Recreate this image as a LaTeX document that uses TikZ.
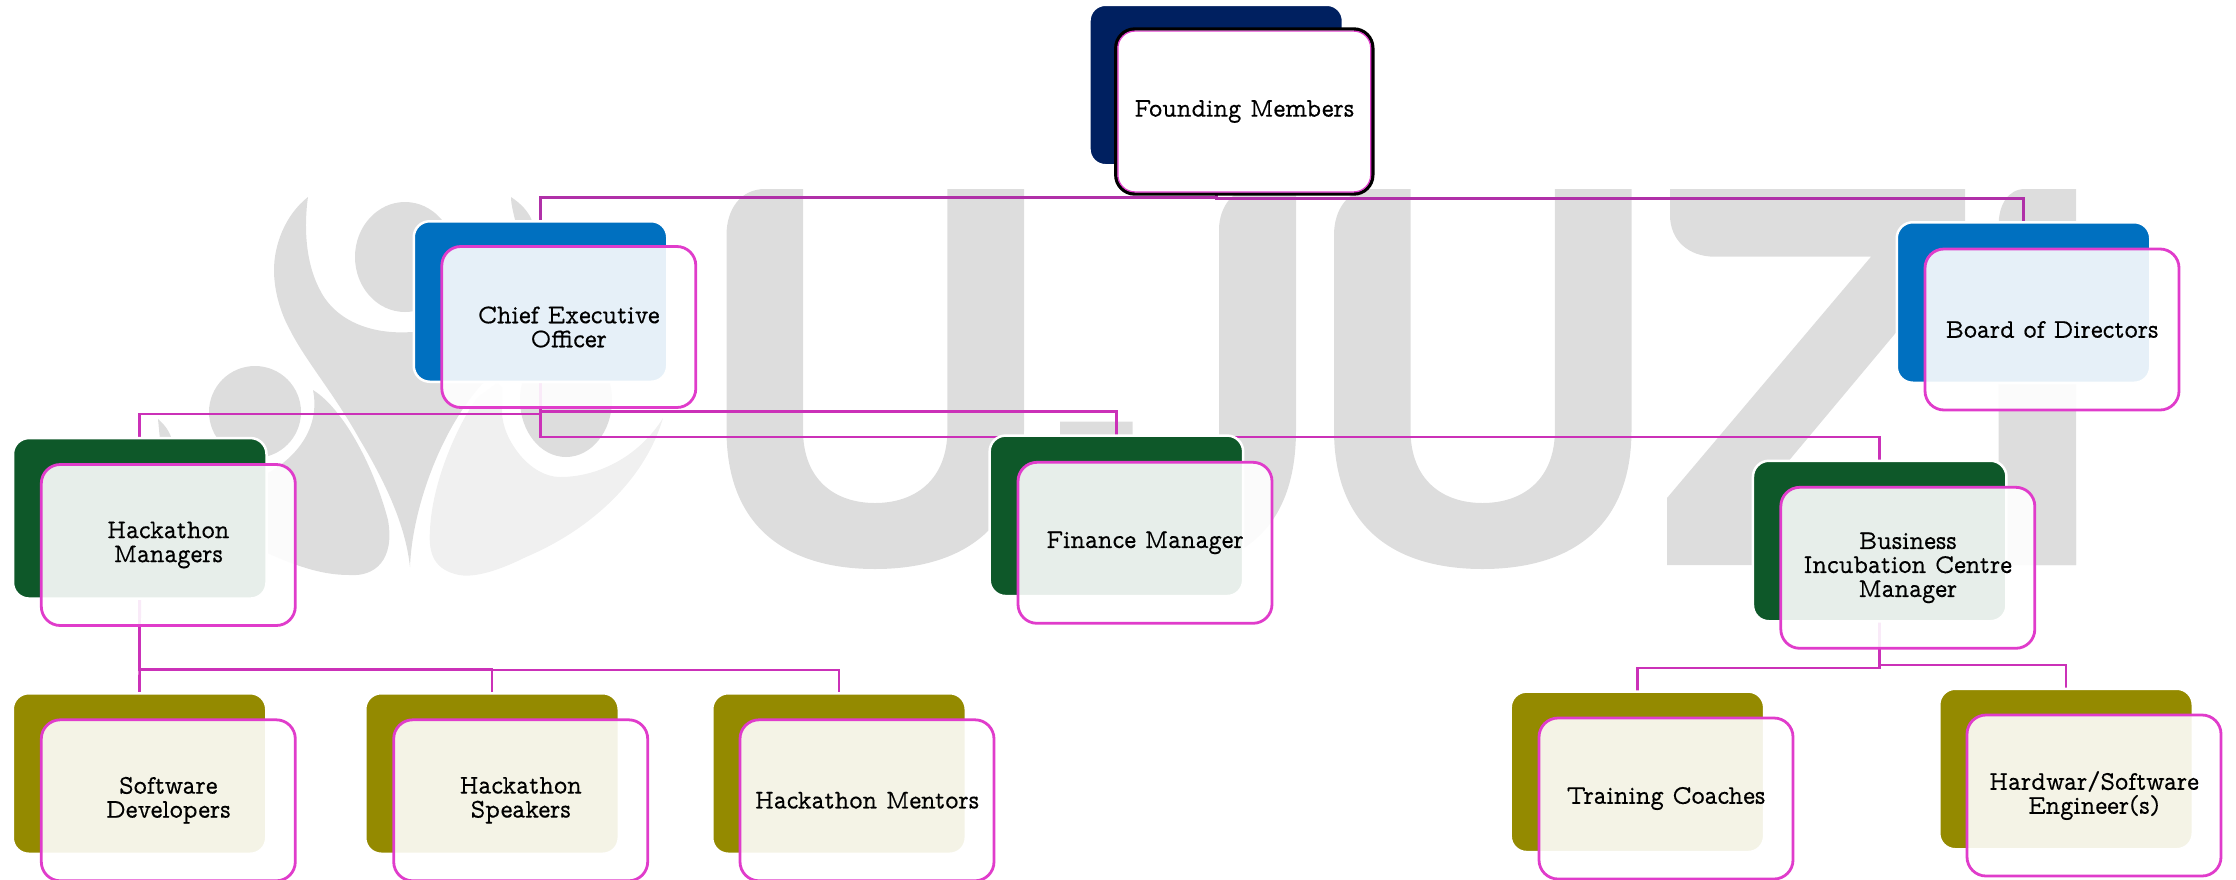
\documentclass[tikz,border=0pt]{standalone}
\usepackage{fontspec}
\setmainfont{Latin Modern Mono Prop}[FakeBold=0.35,FakeStretch=0.93]
\usetikzlibrary{backgrounds}
\pgfdeclarelayer{mark}
\pgfdeclarelayer{lines}
\pgfsetlayers{mark,lines,main}
\definecolor{navyc}{HTML}{002060}
\definecolor{bluec}{HTML}{0070C0}
\definecolor{greenc}{HTML}{0E5829}
\definecolor{olivec}{HTML}{948A00}
\definecolor{rimc}{HTML}{E03CCB}
\definecolor{linec}{HTML}{CB31B8}
\definecolor{toplinec}{HTML}{B030A8}
\definecolor{markc}{HTML}{DDDDDD}
\definecolor{lightc}{HTML}{F0F0F0}
\tikzset{
  backbox/.style={draw=white,line width=2.5pt,rounded corners=16pt,inner sep=0pt,outer sep=0pt,minimum width=253.5pt,minimum height=160.5pt},
  frontbox/.style={draw=rimc,line width=2.8pt,rounded corners=19pt,fill=white,fill opacity=0.9,draw opacity=1,text opacity=1,inner sep=0pt,outer sep=0pt,minimum width=254pt,minimum height=161pt,align=center,font=\fontsize{27}{24}\selectfont},
  conn/.style={draw=linec,line width=2.6pt},
  topconn/.style={draw=toplinec,line width=2.8pt},
}
\newcommand{\ushape}{(803,189) -- (803,430) .. controls (803,480) and (835,503) .. (875,503) .. controls (915,503) and (947.4,480) .. (947.4,430) -- (947.4,189) -- (1024,189) -- (1024,430) .. controls (1024,530) and (960,569) .. (875,569) .. controls (790,569) and (726.5,530) .. (726.5,430) -- (726.5,235) .. controls (726.5,210) and (740,189) .. (765,189) -- cycle}
\begin{document}
\begin{tikzpicture}[x=1pt,y=-1pt]
\useasboundingbox (0,0) rectangle (2236,879);
% boxes behind
\node[backbox,fill=navyc]  (fmB)  at (1216.2,85) {};
\node[backbox,fill=bluec]  (ceoB) at (540.5,301.5) {};
\node[backbox,fill=bluec]  (bodB) at (2023.5,302.5) {};
\node[backbox,fill=greenc] (hmB)  at (139.75,518.3) {};
\node[backbox,fill=greenc] (finB) at (1116.4,515.8) {};
\node[backbox,fill=greenc] (bicB) at (1879.7,541) {};
\node[backbox,fill=olivec] (swB) at (139.5,773.5) {};
\node[backbox,fill=olivec] (spB) at (492,773.5) {};
\node[backbox,fill=olivec] (mnB) at (839,773.5) {};
\node[backbox,fill=olivec] (trB) at (1637.4,771.8) {};
\node[backbox,fill=olivec] (hwB) at (2066,769) {};
% boxes in front
\node[frontbox,fill opacity=1,draw=black,line width=3.4pt,minimum width=257pt,minimum height=165pt] (fmF) at (1244.3,111.5) {Founding Members};
\draw[rimc,line width=1.2pt,rounded corners=17pt] ([shift={(2.1,2.1)}]fmF.north west) rectangle ([shift={(-2.1,-2.1)}]fmF.south east);
\node[frontbox] (ceoF) at (568.8,327) {Chief Executive\\Officer};
\node[frontbox] (bodF) at (2052,329.5) {Board of Directors};
\node[frontbox] (hmF)  at (168.3,545) {Hackathon\\Managers};
\node[frontbox] (finF) at (1145,542.8) {Finance Manager};
\node[frontbox] (bicF) at (1907.8,567.8) {Business\\Incubation Centre\\Manager};
\node[frontbox] (swF)  at (168.3,800.3) {Software\\Developers};
\node[frontbox] (spF)  at (520.7,800.3) {Hackathon\\Speakers};
\node[frontbox] (mnF)  at (867,800.3) {Hackathon Mentors};
\node[frontbox] (trF)  at (1666,798.5) {Training Coaches};
\node[frontbox] (hwF)  at (2094,795.5) {Hardwar/Software\\Engineer(s)};
% connectors
\begin{pgfonlayer}{lines}
\coordinate (busL) at (1216.2,197.5);
\coordinate (busR) at (1216.2,198.7);
\coordinate (busA) at (540.5,414);
\coordinate (busB) at (540.5,411.7);
\coordinate (busC) at (540.5,437);
\coordinate (busD) at (139.75,669);
\coordinate (busD2) at (139.75,670);
\coordinate (busE) at (1879.7,668);
\coordinate (busF) at (1879.7,665);
\draw[topconn] (fmB.south) -- (busL) -| (ceoB.north);
\draw[topconn] (fmB.south) -- (busR) -| (bodB.north);
\draw[conn] (ceoB.south) -- (busA) -| (hmB.north);
\draw[conn] (ceoB.south) -- (busB) -| (finB.north);
\draw[conn] (ceoB.south) -- (busC) -| (bicB.north);
\draw[conn] (hmB.south) -- (swB.north);
\draw[conn] (hmB.south) -- (busD) -| (spB.north);
\draw[conn] (hmB.south) -- (busD2) -| (mnB.north);
\draw[conn] (bicB.south) -- (busE) -| (trB.north);
\draw[conn] (bicB.south) -- (busF) -| (hwB.north);
\end{pgfonlayer}
% watermark
\begin{pgfonlayer}{mark}
\fill[markc] \ushape;
\begin{scope}[xshift=607.5pt]\fill[markc] \ushape;\end{scope}
% J
\fill[markc] (1296,189) -- (1296,430) .. controls (1296,530) and (1240,569) .. (1160,569) .. controls (1110,569) and (1080,560) .. (1060,540) -- (1060,421.7) -- (1132.7,421.7) -- (1132.7,480) .. controls (1140,495) and (1150,503) .. (1165,503) .. controls (1200,503) and (1219,480) .. (1219,440) -- (1219,230) .. controls (1219,205) and (1235,189) .. (1250,189) -- cycle;
% Z
\fill[markc] (1670,189) -- (1965,189) -- (1965,250) -- (1756,500) -- (2076,500) -- (2076,565) -- (1667,565) -- (1667,498) -- (1871,256.7) -- (1715,256.7) .. controls (1688,256.7) and (1670,240) .. (1670,215) -- cycle;
% I
\fill[markc] (2076,189) -- (2076,565) -- (1998.6,565) -- (1998.6,225) .. controls (1998.6,205) and (2008,189) .. (2025,189) -- cycle;
% logo
\fill[markc] (405,257) ellipse [x radius=50,y radius=55];
\fill[markc] (255,412) ellipse [x radius=46,y radius=46];
\fill[markc] (566,400) ellipse [x radius=46,y radius=57];
\fill[markc] (308,197) .. controls (285,215) and (274,245) .. (274,270) .. controls (274,290) and (280,312) .. (290,330) .. controls (305,360) and (335,395) .. (360,440) .. controls (390,490) and (406,530) .. (410,567) .. controls (412,510) and (440,430) .. (483,383) -- (500,360) -- (412,332) .. controls (370,335) and (335,320) .. (320,290) .. controls (305,262) and (304,225) .. (308,197) -- cycle;
\fill[markc] (511,197) .. controls (520,203) and (530,212) .. (533,224) -- (516,224) .. controls (514,215) and (511,205) .. (511,197) -- cycle;
\fill[markc] (313,390) .. controls (345,410) and (375,470) .. (388,520) .. controls (395,560) and (375,577) .. (349,575) .. controls (320,575) and (290,565) .. (240,540) -- (240,480) -- (268,473) .. controls (300,455) and (320,425) .. (313,390) -- cycle;
\fill[markc] (158,419) .. controls (165,425) and (170,432) .. (172,440) -- (160,440) -- cycle;
\fill[lightc] (663,418) .. controls (645,480) and (590,530) .. (526,557) .. controls (490,575) and (470,577) .. (459,575) .. controls (435,570) and (428,555) .. (430,530) .. controls (432,480) and (460,420) .. (478,397) -- (497,383) -- (502,387) -- (502,413) .. controls (503,440) and (530,477) .. (560,477) .. controls (600,477) and (640,455) .. (663,418) -- cycle;
\end{pgfonlayer}
\end{tikzpicture}
\end{document}
